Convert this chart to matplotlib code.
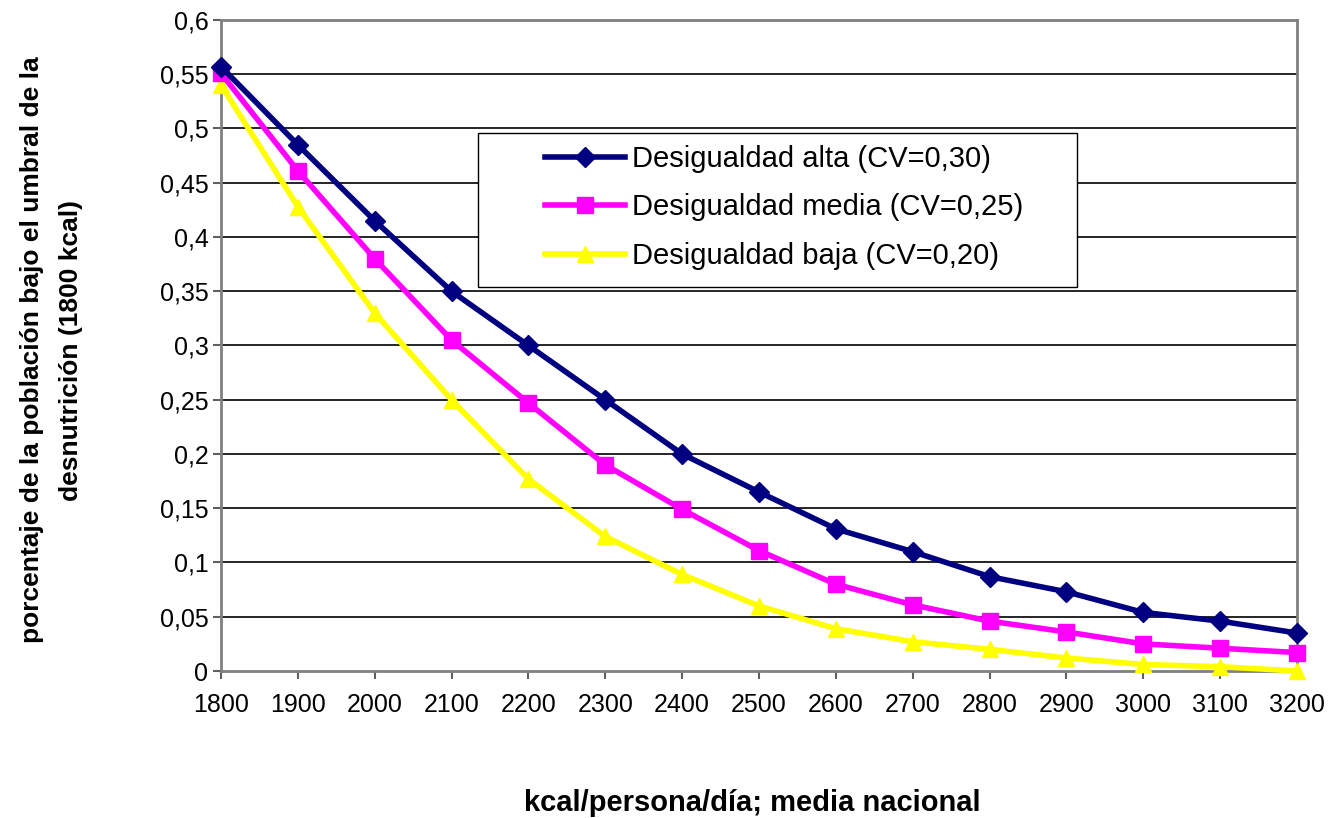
import matplotlib
matplotlib.use("Agg")
import matplotlib.pyplot as plt
from matplotlib.patches import Rectangle

plt.rcParams["font.family"] = ["Liberation Sans", "DejaVu Sans"]

# Datos
kcal = [1800, 1900, 2000, 2100, 2200, 2300, 2400, 2500,
        2600, 2700, 2800, 2900, 3000, 3100, 3200]
alta = [0.557, 0.485, 0.415, 0.350, 0.300, 0.250, 0.200, 0.165,
        0.131, 0.110, 0.087, 0.073, 0.054, 0.046, 0.035]
media = [0.551, 0.461, 0.380, 0.305, 0.247, 0.190, 0.149, 0.111,
         0.080, 0.061, 0.046, 0.036, 0.025, 0.021, 0.017]
baja = [0.540, 0.428, 0.330, 0.250, 0.177, 0.124, 0.089, 0.060,
        0.039, 0.027, 0.020, 0.012, 0.006, 0.004, 0.000]

yticks = [i * 0.05 for i in range(13)]
ytick_labels = ["0", "0,05", "0,1", "0,15", "0,2", "0,25", "0,3",
                "0,35", "0,4", "0,45", "0,5", "0,55", "0,6"]

fig = plt.figure(figsize=(13.35, 8.18), dpi=100)
ax = fig.add_axes([0.1655, 0.1797, 0.806, 0.7959])

ax.plot(kcal, alta, color="#000080", lw=4, marker="D", ms=10,
        label="Desigualdad alta (CV=0,30)", clip_on=False, zorder=5)
ax.plot(kcal, media, color="#FF00FF", lw=4, marker="s", ms=11,
        label="Desigualdad media (CV=0,25)", clip_on=False, zorder=4)
ax.plot(kcal, baja, color="#FFFF00", lw=4, marker="^", ms=12,
        label="Desigualdad baja (CV=0,20)", clip_on=False, zorder=3)

ax.set_xlim(1800, 3200)
ax.set_ylim(0, 0.6)
ax.set_xticks(kcal)
ax.set_xticklabels([str(k) for k in kcal], fontsize=18)
ax.set_yticks(yticks)
ax.set_yticklabels(ytick_labels, fontsize=18)

for t in yticks[1:-1]:
    ax.axhline(t, color="black", lw=1.2, zorder=1)

for side in ["left", "right", "top", "bottom"]:
    ax.spines[side].set_color("#808080")
    ax.spines[side].set_linewidth(2)
ax.tick_params(axis="both", direction="out", length=6, width=1.5,
               color="#606060")
ax.tick_params(axis="y", pad=3)
ax.tick_params(axis="x", pad=10)

ax.set_xlabel("kcal/persona/día; media nacional", fontsize=21,
              fontweight="bold")
ax.xaxis.set_label_coords(0.4935, -0.182)
ax.set_ylabel("porcentaje de la población bajo el umbral de la\ndesnutrición (1800 kcal)",
              fontsize=19, fontweight="bold", linespacing=1.8)
ax.yaxis.set_label_coords(-0.128, 0.493)

# marco de la leyenda
ax.add_patch(Rectangle((0.2388, 0.5899), 0.5567, 0.2365, transform=ax.transAxes,
                       facecolor="white", edgecolor="black", lw=1, zorder=6))
leg = ax.legend(loc="upper left", bbox_to_anchor=(0.301, 0.808),
                fontsize=21, frameon=False, handlelength=2.75,
                borderpad=0, labelspacing=0.7, handletextpad=0.25,
                borderaxespad=0)
leg.set_zorder(7)

fig.savefig("out.png", dpi=100)
